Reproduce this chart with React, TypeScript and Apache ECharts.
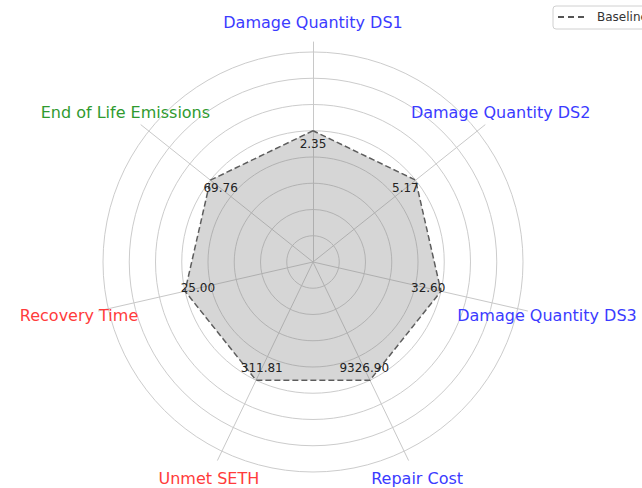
import React, { useEffect, useRef } from "react";
import * as echarts from "echarts";

// Axes in the reference's clockwise order, starting at the top
const categories = [
  "Damage Quantity DS1",
  "Damage Quantity DS2",
  "Damage Quantity DS3",
  "Repair Cost",
  "Unmet SETH",
  "Recovery Time",
  "End of Life Emissions",
];
const baselineValues = [2.35, 5.17, 32.6, 9326.9, 311.81, 25.0, 69.76];
const nameColors = ["#3b3bff", "#3b3bff", "#3b3bff", "#3b3bff", "#ff3b3b", "#ff3b3b", "#2f9a2f"];
const seriesName = "Baseline";
// the baseline is normalised to 1.0, the outer ring is 1.6
const outerRing = 1.6;

export default function App() {
  const ref = useRef<HTMLDivElement>(null);

  useEffect(() => {
    if (!ref.current) return;
    const chart = echarts.init(ref.current, undefined, { renderer: "svg" });

    // ECharts places radar indicators counter-clockwise; reverse after the first
    const order = [0, ...categories.map((_, i) => i).slice(1).reverse()];
    const vals = order.map((i) => baselineValues[i]);

    const center = [313, 262];
    const hiddenCommon = {
      axisName: { show: false },
      splitArea: { show: false },
    };

    chart.setOption({
      animation: false,
      backgroundColor: "#ffffff",
      legend: {
        left: 558,
        top: 11,
        padding: 0,
        data: [
          {
            name: seriesName,
            icon: "path://M0,0h6v2h-6z M10,0h6v2h-6z M20,0h6v2h-6z",
          },
        ],
        itemWidth: 26,
        itemHeight: 2,
        itemStyle: { color: "#555555", borderWidth: 0 },
        lineStyle: { width: 0 },
        textStyle: {
          fontFamily: "DejaVu Sans",
          fontSize: 12,
          color: "#333333",
          padding: [0, 0, 0, 8],
        },
      },
      graphic: [
        {
          type: "rect",
          shape: { x: 553, y: 6, width: 110, height: 23, r: 3 },
          style: { fill: "rgba(255,255,255,0.8)", stroke: "#d0d0d0", lineWidth: 1 },
          z: -1,
          silent: true,
        },
      ],
      radar: [
        {
          // grid rings
          center,
          radius: 210,
          shape: "circle",
          splitNumber: 8,
          indicator: vals.map((v) => ({ name: "", max: v * outerRing, min: 0 })),
          axisLine: { show: false },
          splitLine: { show: true, lineStyle: { color: "#cccccc", width: 1 } },
          ...hiddenCommon,
        },
        {
          // spokes and names
          center,
          radius: 220,
          shape: "circle",
          splitNumber: 1,
          nameGap: 20,
          indicator: order.map((i) => ({ name: categories[i], max: 1, min: 0, color: nameColors[i] })),
          axisLine: { show: true, lineStyle: { color: "#c8c8c8", width: 1 } },
          splitLine: { show: false },
          splitArea: { show: false },
          axisName: {
            show: true,
            fontFamily: "DejaVu Sans",
            fontSize: 16,
            align: "center",
            verticalAlign: "middle",
          },
        },
        {
          // value-label positions
          center,
          radius: 189,
          shape: "circle",
          splitNumber: 1,
          indicator: vals.map((v) => ({ name: "", max: v * outerRing, min: 0 })),
          axisLine: { show: false },
          splitLine: { show: false },
          ...hiddenCommon,
        },
      ],
      series: [
        {
          name: seriesName,
          type: "radar",
          radarIndex: 0,
          symbol: "none",
          itemStyle: { color: "#555555" },
          lineStyle: { color: "#5a5a5a", width: 1.5, type: [6, 3] },
          areaStyle: { color: "rgba(120,120,120,0.3)", opacity: 1 },
          data: [{ value: vals, name: seriesName }],
          z: 3,
        },
        {
          name: "values",
          type: "radar",
          radarIndex: 2,
          symbol: "circle",
          symbolSize: 1,
          itemStyle: { color: "rgba(0,0,0,0)" },
          lineStyle: { width: 0, opacity: 0 },
          label: {
            show: true,
            position: "inside",
            fontFamily: "DejaVu Sans",
            fontSize: 12,
            color: "#222222",
            formatter: (p: any) => Number(p.value).toFixed(2),
          },
          data: [{ value: vals, name: "values" }],
          z: 4,
        },
      ],
    });

    return () => chart.dispose();
  }, []);

  return (
    <div
      ref={ref}
      style={{ position: "fixed", left: 0, top: 0, width: 642, height: 488 }}
    />
  );
}
